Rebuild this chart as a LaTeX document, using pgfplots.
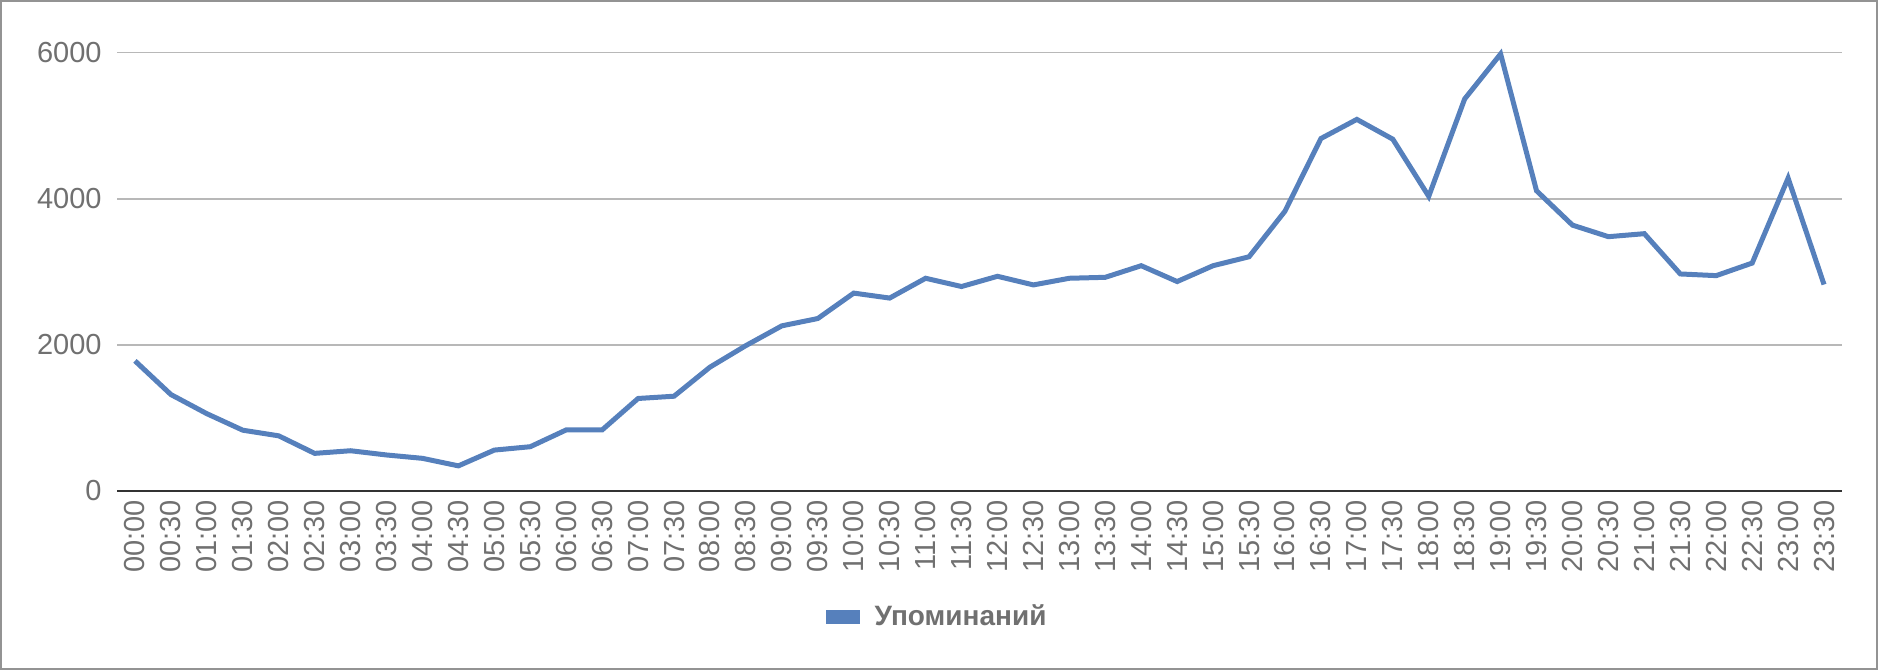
\documentclass[border=0pt]{standalone}
\usepackage{pgfplots}
\pgfplotsset{compat=1.18}
\usepackage{fontspec}
\setmainfont{Liberation Sans}
\definecolor{mainblue}{RGB}{86,128,188}
\definecolor{labgray}{RGB}{112,112,112}
\definecolor{gridgray}{RGB}{184,184,184}
\begin{document}
\begin{tikzpicture}[x=1pt,y=1pt]
\useasboundingbox (0,0) rectangle (939,335);
\draw[color=gridgray!80!black, line width=0.75pt] (0.4,0.4) rectangle (938.6,334.6);
\begin{axis}[
  at={(58.5pt,89.5pt)}, anchor=south west,
  scale only axis, width=862.5pt, height=219.25pt,
  xmin=-0.5, xmax=47.5, ymin=0, ymax=6000,
  clip=false,
  axis line style={draw=none},
  major tick length=0pt,
  ymajorgrids, grid style={gridgray, line width=0.9pt},
  ytick={0,2000,4000,6000},
  yticklabels={0,2000,4000,6000},
  scaled y ticks=false,
  xtick={0,...,47},
  xticklabels={00:00,00:30,01:00,01:30,02:00,02:30,03:00,03:30,04:00,04:30,05:00,05:30,06:00,06:30,07:00,07:30,08:00,08:30,09:00,09:30,10:00,10:30,11:00,11:30,12:00,12:30,13:00,13:30,14:00,14:30,15:00,15:30,16:00,16:30,17:00,17:30,18:00,18:30,19:00,19:30,20:00,20:30,21:00,21:30,22:00,22:30,23:00,23:30},
  tick label style={font=\fontsize{14.5}{17}\selectfont, text=labgray, inner sep=0pt},
  xticklabel style={rotate=90, anchor=east},
  xticklabel shift=4.5pt,
  yticklabel shift=7.5pt,
  legend style={at={(0.476,-0.287)}, anchor=center, draw=none, fill=none,
    font=\fontsize{14}{17}\selectfont\bfseries, text=labgray},
  legend image code/.code={\fill[mainblue] (0pt,-2.4pt) rectangle (14.5pt,2.4pt); \path (20pt,0pt);},
]
\addplot[mainblue, line width=2.5pt, line join=miter] coordinates {
(0,1781) (1,1320) (2,1058) (3,832) (4,755) (5,515) (6,551) (7,493)
(8,447) (9,344) (10,560) (11,606) (12,836) (13,836) (14,1266) (15,1297)
(16,1695) (17,1990) (18,2260) (19,2360) (20,2708) (21,2640) (22,2911) (23,2798)
(24,2938) (25,2820) (26,2911) (27,2924) (28,3083) (29,2866) (30,3083) (31,3205)
(32,3829) (33,4823) (34,5085) (35,4814) (36,4032) (37,5365) (38,5980) (39,4108)
(40,3638) (41,3480) (42,3521) (43,2970) (44,2947) (45,3119) (46,4281) (47,2825)
};
\addlegendentry{Упоминаний}
\draw[color=black!80, line width=1.1pt] (axis cs:-0.5,0) -- (axis cs:47.5,0);
\end{axis}
\end{tikzpicture}
\end{document}
